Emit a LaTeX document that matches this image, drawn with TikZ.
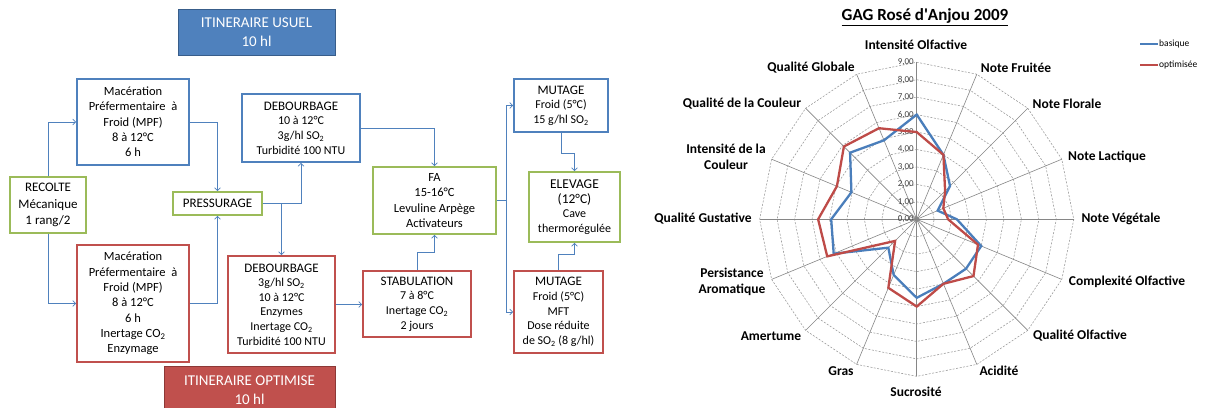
\documentclass[tikz,border=0pt]{standalone}
\usepackage{fontspec}
\setmainfont{Carlito}
\usepackage{tikz}
\usetikzlibrary{arrows, calc}

\definecolor{usblue}{RGB}{79,129,189}
\definecolor{usbluedark}{RGB}{56,93,138}
\definecolor{okgreen}{RGB}{155,187,89}
\definecolor{opred}{RGB}{192,80,77}
\definecolor{opreddark}{RGB}{140,56,54}
\definecolor{serieblue}{RGB}{74,126,187}
\definecolor{seriered}{RGB}{190,75,72}
\definecolor{gridgray}{RGB}{134,134,134}

\newcommand{\hd}[1]{{\fontsize{13}{15}\selectfont #1}}

\tikzset{
  box/.style={draw, line width=1.6pt, fill=white, align=center, inner sep=1pt,
    font=\fontsize{12}{14.6}\selectfont},
  bluebox/.style={box, draw=usblue},
  greenbox/.style={box, draw=okgreen},
  redbox/.style={box, draw=opred},
  titlebox/.style={draw, line width=1pt, align=center, text=white,
    font=\fontsize{15}{19}\selectfont},
  flow/.style={draw=usblue, line width=0.7pt, ->, >=angle 90},
  spoke/.style={draw=gridgray, line width=0.6pt},
  web/.style={draw=gridgray!85, line width=0.55pt, dash pattern=on 2pt off 1.5pt},
  serie/.style={line width=2.3pt, line join=miter},
  axislabel/.style={font=\fontsize{13.5}{15.5}\selectfont\bfseries, align=center},
  ticklabel/.style={font=\fontsize{9}{10}\selectfont, text=black!75, anchor=east, inner sep=1pt},
}

\begin{document}
\begin{tikzpicture}[x=1pt, y=-1pt]
\path[fill=white] (0,0) rectangle (1206,407);
\useasboundingbox (0,0) rectangle (1206,407);

% Itineraires
\node[titlebox, fill=usblue, draw=usbluedark, minimum width=157pt, minimum height=46pt] (usuel) at (256.5,32) {ITINERAIRE USUEL\\10 hl};
\node[titlebox, fill=opred, draw=opreddark, minimum width=171pt, minimum height=48pt] (optim) at (249.5,390) {ITINERAIRE OPTIMISE\\10 hl};

% Boxes
\node[greenbox, minimum width=76pt, minimum height=56pt, font=\fontsize{13}{16.5}\selectfont] (recolte) at (48,205) {RECOLTE\\M\'ecanique\\1 rang/2};
\node[bluebox, minimum width=112pt, minimum height=86pt, font=\fontsize{12.5}{15.3}\selectfont] (macb) at (133,122) {Mac\'eration\\Pr\'efermentaire~ \`a\\Froid (MPF)\\8 \`a 12\textdegree C\\6 h};
\node[redbox, minimum width=112pt, minimum height=117pt, font=\fontsize{12.5}{15.3}\selectfont] (macr) at (133,303.5) {Mac\'eration\\Pr\'efermentaire~ \`a\\Froid (MPF)\\8 \`a 12\textdegree C\\6 h\\Inertage CO\textsubscript{2}\\Enzymage};
\node[greenbox, minimum width=89pt, minimum height=23pt, font=\fontsize{13}{15}\selectfont] (press) at (217.5,203.5) {PRESSURAGE};
\node[bluebox, minimum width=118pt, minimum height=68pt] (debb) at (301,128) {\hd{DEBOURBAGE}\\10 \`a 12\textdegree C\\3g/hl SO\textsubscript{2}\\Turbidit\'e 100 NTU};
\node[redbox, minimum width=107pt, minimum height=97pt] (debr) at (281.5,304.5) {\hd{DEBOURBAGE}\\3g/hl SO\textsubscript{2}\\10 \`a 12\textdegree C\\Enzymes\\Inertage CO\textsubscript{2}\\Turbidit\'e 100 NTU};
\node[greenbox, minimum width=123pt, minimum height=67pt, font=\fontsize{12.5}{15.3}\selectfont] (fa) at (434.5,200.5) {FA\\15-16\textdegree C\\Levuline Arp\`ege\\Activateurs};
\node[redbox, minimum width=108pt, minimum height=66pt] (stab) at (417,304) {\hd{STABULATION}\\7 \`a 8\textdegree C\\Inertage CO\textsubscript{2}\\2 jours};
\node[bluebox, minimum width=94pt, minimum height=53pt] (mutb) at (561,105.5) {\hd{MUTAGE}\\Froid (5\textdegree C)\\15 g/hl SO\textsubscript{2}};
\node[greenbox, minimum width=91pt, minimum height=70pt] (elev) at (574.5,207) {{\fontsize{13.5}{17}\selectfont ELEVAGE}\\{\fontsize{13.5}{17}\selectfont (12\textdegree C)}\\Cave\\thermor\'egul\'ee};
\node[redbox, minimum width=89pt, minimum height=82pt] (mutr) at (558.5,312) {\hd{MUTAGE}\\Froid (5\textdegree C)\\MFT\\Dose r\'eduite\\de SO\textsubscript{2} (8 g/hl)};

% Connectors
\draw[flow] (recolte.north) |- (macb.west);
\draw[flow] (recolte.south) |- (macr.west);
\draw[flow] (macb.east) -| (press.north);
\draw[flow] (macr.east) -| (press.south);
\draw[flow] (press.east) -| (debb.south);
\draw[flow] (debr.north |- press.east) -- (debr.north);
\draw[flow] (debb.east) -| (fa.north);
\draw[flow] (debr.east) -- (debr.east -| stab.west);
\draw[flow] (stab.north) -- ++(0,-18) -| (fa.south);
\coordinate (split) at (506,202);
\draw[flow, -] (fa.east) -- (fa.east -| split);
\draw[flow] (split |- fa.east) |- (mutb.west);
\draw[flow] (split |- fa.east) |- (mutr.west);
\draw[flow] (mutb.south) -- ++(0,21) -| (elev.north);
\draw[flow] (mutr.north) -- ++(0,-16) -| (elev.south);

% Radar chart
\node[font=\fontsize{17}{19}\selectfont\bfseries] (title) at (925,17) {\underline{GAG Ros\'e d{\addfontfeatures{Ligatures=TeXOff}'}Anjou 2009}};
\begin{scope}[shift={(916.7,219.3)}, x=17.45pt, y=17.45pt]
  \foreach \r in {1,...,9}
    \draw[web] (90:\r) \foreach \a in {1,...,15} { -- (90-22.5*\a:\r) } -- cycle;
  \foreach \a in {0,...,15}
    \draw[spoke] (0,0) -- (90-22.5*\a:9);
  \fill[gridgray] (0,0) circle (2.5pt);
  \foreach \r in {0,...,9}
    \node[ticklabel] (t\r) at (-0.1,\r) {\r,00};
  % basique
  \draw[serie, serieblue] (90:6.0) \foreach \v [count=\i] in {4.0,2.7,1.3,2.3,4.0,4.0,4.0,4.5,3.45,2.3,5.15,4.9,4.05,5.4,4.9} { -- (90-22.5*\i:\v) } -- cycle;
  % optimisee
  \draw[serie, seriered] (90:5.0) \foreach \v [count=\i] in {4.0,2.3,1.65,1.8,3.8,4.6,4.0,5.0,4.25,1.75,5.55,5.65,4.95,5.9,5.65} { -- (90-22.5*\i:\v) } -- cycle;
\end{scope}

% Axis labels
\node[axislabel] (io) at (916,45) {Intensit\'e Olfactive};
\node[axislabel] (nfr) at (1016,68) {Note Fruit\'ee};
\node[axislabel] (nfl) at (1067,104) {Note Florale};
\node[axislabel] (nl) at (1107,157) {Note Lactique};
\node[axislabel] (nv) at (1121,219) {Note V\'eg\'etale};
\node[axislabel] (co) at (1127,282) {Complexit\'e Olfactive};
\node[axislabel] (qo) at (1080,336) {Qualit\'e Olfactive};
\node[axislabel] (ac) at (999,371) {Acidit\'e};
\node[axislabel] (su) at (916,392) {Sucrosit\'e};
\node[axislabel] (gr) at (841,371) {Gras};
\node[axislabel] (am) at (771,336) {Amertume};
\node[axislabel] (pa) at (732,282) {Persistance\\Aromatique};
\node[axislabel] (qg) at (703,219) {Qualit\'e Gustative};
\node[axislabel] (ic) at (726,157) {Intensit\'e de la\\Couleur};
\node[axislabel] (qc) at (742,104) {Qualit\'e de la Couleur};
\node[axislabel] (qgl) at (811,68) {Qualit\'e Globale};

% Legend
\node[anchor=west, inner sep=1pt, font=\fontsize{9.5}{11}\selectfont] (lgb) at (1158,44) {basique};
\node[anchor=west, inner sep=1pt, font=\fontsize{9.5}{11}\selectfont] (lgr) at (1158,65) {optimis\'ee};
\draw[serieblue, line width=2pt] (lgb.west) -- ++(-18,0);
\draw[seriered, line width=2pt] (lgr.west) -- ++(-18,0);
\end{tikzpicture}
\end{document}
